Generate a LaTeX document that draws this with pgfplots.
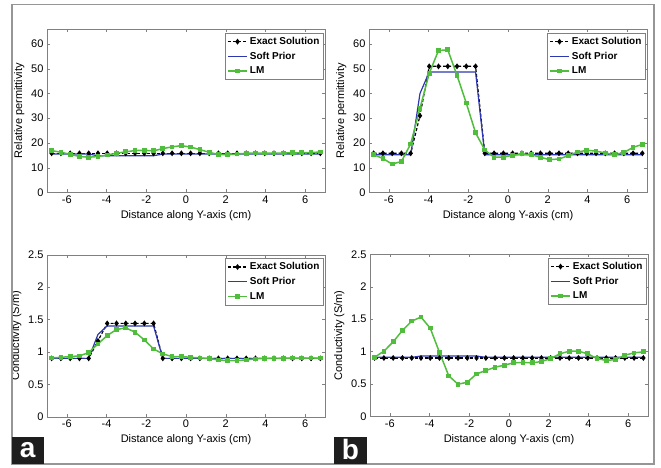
\documentclass[border=0pt]{standalone}
\usepackage{pgfplots}
\pgfplotsset{compat=1.18}
\usepackage{pgfplotstable}
\usepackage{fontspec}
\setmainfont{Liberation Sans}

\definecolor{lmgreen}{RGB}{80,190,60}
\definecolor{softblue}{RGB}{45,55,175}
\definecolor{framegray}{RGB}{150,150,150}
\definecolor{boxblack}{RGB}{30,30,30}

% x  exact  soft  lm
\pgfplotstableread{
x exact soft lm
-6.767 15.8 15.5 16.9
-6.300 15.8 15.5 16.2
-5.833 15.8 15.5 15.4
-5.367 15.8 15.5 14.5
-4.900 15.8 15.5 14.2
-4.433 15.8 14.8 14.5
-3.967 15.8 14.8 15.1
-3.500 15.8 14.8 15.8
-3.033 15.8 14.8 16.4
-2.567 15.8 14.8 16.9
-2.100 15.8 14.8 17.0
-1.633 15.8 14.8 16.8
-1.167 15.8 15.5 17.7
-0.700 15.8 15.5 18.4
-0.233 15.8 15.5 18.9
0.233 15.8 15.5 18.3
0.700 15.8 15.5 17.3
1.167 15.8 15.5 16.2
1.633 15.8 15.5 15.3
2.100 15.8 15.5 15.2
2.567 15.8 15.5 15.5
3.033 15.8 15.5 15.8
3.500 15.8 15.5 15.9
3.967 15.8 15.5 15.9
4.433 15.8 15.5 15.9
4.900 15.8 15.5 15.9
5.367 15.8 15.5 16.0
5.833 15.8 15.5 16.0
6.300 15.8 15.5 16.1
6.767 15.8 15.5 16.3
}\permA

\pgfplotstableread{
x exact soft lm
-6.767 15.8 15.2 15.2
-6.300 15.8 15.2 13.7
-5.833 15.8 15.2 11.4
-5.367 15.8 15.2 12.5
-4.900 15.8 15.2 19.6
-4.433 31.0 40.0 34.0
-3.967 51.0 48.7 48.2
-3.500 51.0 48.7 57.4
-3.033 51.0 48.7 57.7
-2.567 51.0 48.7 47.3
-2.100 51.0 48.7 36.1
-1.633 51.0 48.7 24.1
-1.167 15.8 15.2 17.1
-0.700 15.8 15.2 14.2
-0.233 15.8 15.2 14.2
0.233 15.8 15.2 15.0
0.700 15.8 15.2 15.6
1.167 15.8 15.2 15.2
1.633 15.8 15.2 14.2
2.100 15.8 15.2 13.2
2.567 15.8 15.2 13.5
3.033 15.8 15.2 14.8
3.500 15.8 15.2 16.3
3.967 15.8 15.2 17.0
4.433 15.8 15.2 16.7
4.900 15.8 15.2 15.9
5.367 15.8 15.2 15.2
5.833 15.8 15.2 16.1
6.300 15.8 15.2 18.2
6.767 15.8 15.2 19.4
}\permB

\pgfplotstableread{
x exact soft lm
-6.767 0.90 0.90 0.907
-6.300 0.90 0.90 0.917
-5.833 0.90 0.90 0.928
-5.367 0.90 0.90 0.938
-4.900 0.90 0.90 0.990
-4.433 1.17 1.27 1.124
-3.967 1.44 1.40 1.253
-3.500 1.44 1.40 1.345
-3.033 1.44 1.40 1.371
-2.567 1.44 1.40 1.304
-2.100 1.44 1.40 1.186
-1.633 1.44 1.40 1.046
-1.167 0.90 0.90 0.969
-0.700 0.90 0.90 0.928
-0.233 0.90 0.90 0.928
0.233 0.90 0.90 0.917
0.700 0.90 0.90 0.907
1.167 0.90 0.90 0.897
1.633 0.90 0.90 0.876
2.100 0.90 0.90 0.866
2.567 0.90 0.90 0.866
3.033 0.90 0.90 0.876
3.500 0.90 0.90 0.892
3.967 0.90 0.90 0.900
4.433 0.90 0.90 0.902
4.900 0.90 0.90 0.902
5.367 0.90 0.90 0.905
5.833 0.90 0.90 0.905
6.300 0.90 0.90 0.905
6.767 0.90 0.90 0.905
}\condA

\pgfplotstableread{
x exact soft lm
-6.767 0.90 0.91 0.912
-6.300 0.90 0.91 1.005
-5.833 0.90 0.91 1.149
-5.367 0.90 0.91 1.325
-4.900 0.90 0.91 1.469
-4.433 0.90 0.93 1.531
-3.967 0.90 0.93 1.361
-3.500 0.90 0.93 0.985
-3.033 0.90 0.93 0.624
-2.567 0.90 0.93 0.495
-2.100 0.90 0.93 0.526
-1.633 0.90 0.93 0.655
-1.167 0.90 0.91 0.706
-0.700 0.90 0.91 0.758
-0.233 0.90 0.91 0.789
0.233 0.90 0.91 0.825
0.700 0.90 0.91 0.830
1.167 0.90 0.91 0.825
1.633 0.90 0.91 0.845
2.100 0.90 0.91 0.892
2.567 0.90 0.91 0.964
3.033 0.90 0.91 1.005
3.500 0.90 0.91 1.005
3.967 0.90 0.91 0.964
4.433 0.90 0.91 0.892
4.900 0.90 0.91 0.861
5.367 0.90 0.91 0.876
5.833 0.90 0.91 0.943
6.300 0.90 0.91 0.979
6.767 0.90 0.91 0.995
}\condB

\pgfplotsset{
  panel/.style={
    scale only axis,
    width=278pt,
    xmin=-7, xmax=7,
    xtick={-6,-4,-2,0,2,4,6},
    tick align=inside,
    tick pos=both,
    major tick length=3pt,
    axis line style={gray},
    tick style={gray},
    /pgf/number format/assume math mode=true,
    ticklabel style={font=\fontsize{11}{12}\selectfont},
    label style={font=\fontsize{11}{13}\selectfont},
    xlabel={Distance along Y-axis (cm)},
    legend cell align=left,
    legend style={at={(0.995,0.98)}, anchor=north east, draw=gray,
      font=\bfseries\fontsize{10}{11}\selectfont,
      inner xsep=2pt, inner ysep=2.5pt, row sep=2pt},
    legend image code/.code={\draw[mark repeat=2,mark phase=2]
      plot coordinates {(0cm,0cm) (0.34cm,0cm) (0.68cm,0cm)};},
  },
  exact/.style={black, line width=1.2pt, dash pattern=on 3pt off 2pt,
    mark=diamond*, mark size=2pt, mark options={solid}},
  soft/.style={softblue, line width=1.2pt, no markers},
  lm/.style={lmgreen, line width=1.5pt, mark=square*, mark size=1.6pt,
    mark options={solid}},
}

\begin{document}
\begin{tikzpicture}
\path[use as bounding box] (0pt,0pt) rectangle (661pt,-468pt);

\begin{axis}[panel, at={(47pt,-192.3pt)}, anchor=south west, height=163pt,
  ymin=0, ymax=66, ytick={0,10,...,60}, ylabel={Relative permittivity}]
\addplot[exact] table[x=x, y=exact] {\permA};
\addplot[soft] table[x=x, y=soft] {\permA};
\addplot[lm] table[x=x, y=lm] {\permA};
\legend{Exact Solution, Soft Prior, LM}
\end{axis}

\begin{axis}[panel, at={(369pt,-192.3pt)}, anchor=south west, height=163pt,
  ymin=0, ymax=66, ytick={0,10,...,60}, ylabel={Relative permittivity}]
\addplot[exact] table[x=x, y=exact] {\permB};
\addplot[soft] table[x=x, y=soft] {\permB};
\addplot[lm] table[x=x, y=lm] {\permB};
\legend{Exact Solution, Soft Prior, LM}
\end{axis}

\begin{axis}[panel, at={(47pt,-416.7pt)}, anchor=south west, height=162pt,
  ymin=0, ymax=2.5, ytick={0,0.5,...,2.5}, ylabel={Conductivity (S/m)}]
\addplot[exact] table[x=x, y=exact] {\condA};
\addplot[soft] table[x=x, y=soft] {\condA};
\addplot[lm] table[x=x, y=lm] {\condA};
\legend{Exact Solution, Soft Prior, LM}
\end{axis}

\begin{axis}[panel, at={(370pt,-416.3pt)}, anchor=south west, height=162pt,
  ymin=0, ymax=2.5, ytick={0,0.5,...,2.5}, ylabel={Conductivity (S/m)}]
\addplot[exact] table[x=x, y=exact] {\condB};
\addplot[soft] table[x=x, y=soft] {\condB};
\addplot[lm] table[x=x, y=lm] {\condB};
\legend{Exact Solution, Soft Prior, LM}
\end{axis}

% outer frame and panel letters
\draw[framegray, line width=1.2pt] (12pt,-4.5pt) rectangle (654pt,-464pt);
\fill[boxblack] (12pt,-437pt) rectangle (43.5pt,-464pt);
\node[white, font=\bfseries\fontsize{28}{28}\selectfont] at (27.7pt,-450.5pt) {a};
\fill[boxblack] (334pt,-437pt) rectangle (367pt,-464pt);
\node[white, font=\bfseries\fontsize{28}{28}\selectfont] at (350.5pt,-449.5pt) {b};
\end{tikzpicture}
\end{document}
